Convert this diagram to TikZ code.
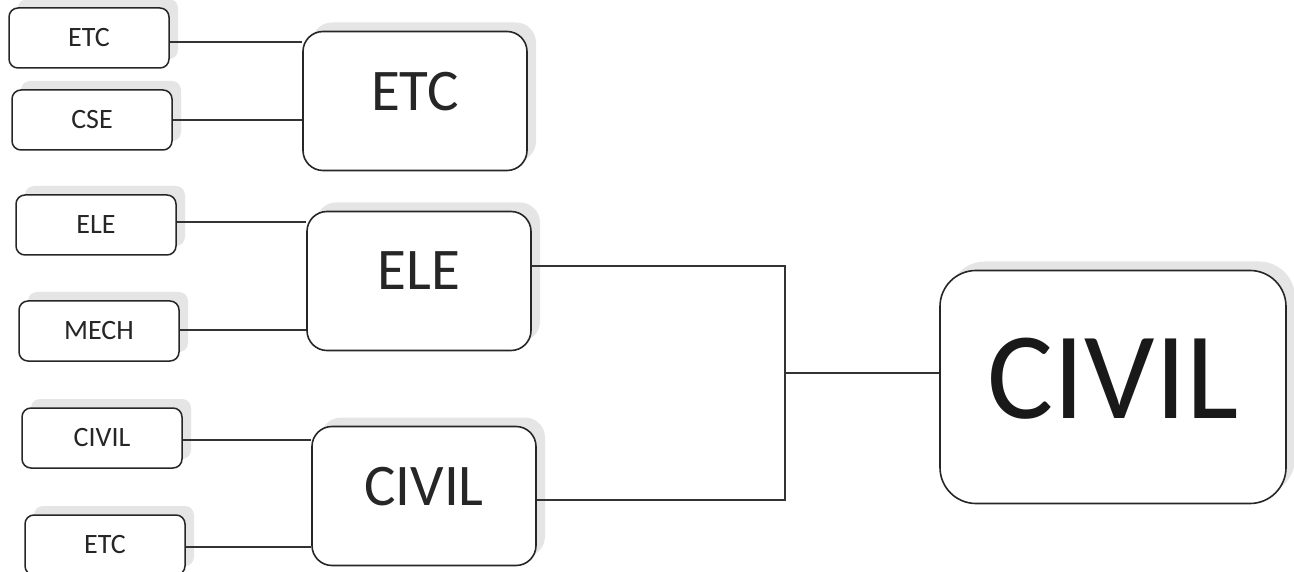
\documentclass[tikz,border=0pt]{standalone}
\usepackage{fontspec}
\setmainfont{Carlito}
\usetikzlibrary{shadows}
\begin{document}
\begin{tikzpicture}[x=1pt,y=-1pt,
  shade/.style={drop shadow={shadow xshift=9pt, shadow yshift=9pt, fill=black!20}},
  leaf/.style={shade, draw=black!85, line width=1.5pt, fill=white, rounded corners=9pt,
    minimum width=160pt, minimum height=60pt, inner sep=0pt, text=black!85,
    font=\fontsize{28}{32}\selectfont},
  mid/.style={shade, draw=black!85, line width=1.6pt, fill=white, rounded corners=20pt,
    minimum width=224pt, minimum height=139pt, inner sep=0pt, text depth=20pt, text=black!85,
    font=\fontsize{59}{64}\selectfont},
  final/.style={shade, draw=black!85, line width=1.6pt, fill=white, rounded corners=36pt,
    minimum width=346pt, minimum height=233pt, inner sep=0pt, text depth=18pt, text=black!90,
    font=\fontsize{124}{130}\selectfont},
  wire/.style={draw=black!80, line width=1.4pt}]
\useasboundingbox (0,0) rectangle (1294,572);
\fill[white] (0,0) rectangle (1294,572);

% leaves
\node[leaf] (l1) at (89,38) {ETC};
\node[leaf] (l2) at (92,120) {CSE};
\node[leaf] (l3) at (96,225) {ELE};
\node[leaf] (l4) at (99,331) {MECH};
\node[leaf] (l5) at (102,438) {CIVIL};
\node[leaf] (l6) at (105,545) {ETC};

% middle
\node[mid] (m1) at (415,101) {ETC};
\node[mid] (m2) at (419,281) {ELE};
\node[mid] (m3) at (424,496) {CIVIL};

% final
\node[final] (f) at (1113,387) {CIVIL};

% leaf to middle
\coordinate (a1) at (0,42);
\coordinate (a2) at (0,120);
\coordinate (a3) at (0,222);
\coordinate (a4) at (0,330);
\coordinate (a5) at (0,440);
\coordinate (a6) at (0,547);
\draw[wire] (a1 -| l1.east) -- (a1 -| m1.west);
\draw[wire] (a2 -| l2.east) -- (a2 -| m1.west);
\draw[wire] (a3 -| l3.east) -- (a3 -| m2.west);
\draw[wire] (a4 -| l4.east) -- (a4 -| m2.west);
\draw[wire] (a5 -| l5.east) -- (a5 -| m3.west);
\draw[wire] (a6 -| l6.east) -- (a6 -| m3.west);

% middle to final
\coordinate (jt) at (785,266);
\coordinate (jb) at (785,500);
\coordinate (jm) at (785,373);
\draw[wire] (jt -| m2.east) -- (jt) -- (jb) -- (jb -| m3.east);
\draw[wire] (jm) -- (jm -| f.west);
\end{tikzpicture}
\end{document}
